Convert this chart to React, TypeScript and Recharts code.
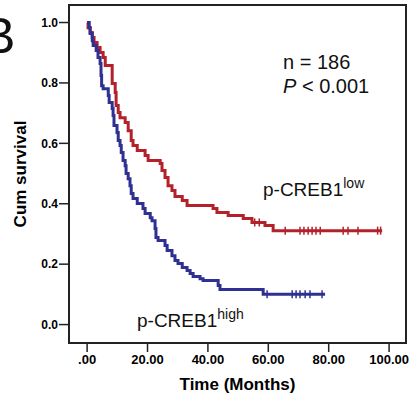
import {
  ComposedChart,
  Line,
  Scatter,
  XAxis,
  YAxis,
  ReferenceArea,
} from "recharts";

const FONT = "'Liberation Sans', Arial, Helvetica, sans-serif";
const RED = "#b3212b";
const BLUE = "#2e3191";

// p-CREB1 low: time of each step (months) and survival after it
const lowTime = [0, 0.3, 1.0, 1.7, 2.3, 3.3, 4.3, 5.3, 6.0, 8.3, 9.3, 9.6, 10.3, 10.9, 12.6, 13.6, 14.6, 15.2, 16.6, 19.2, 20.2, 24.2, 24.8, 25.8, 26.8, 28.1, 29.1, 31.5, 33.1, 41.7, 43.0, 46.7, 51.7, 54.6, 58.9, 61.6, 97.7];
const lowSurv = [1.0, 0.983, 0.967, 0.95, 0.934, 0.917, 0.901, 0.884, 0.858, 0.798, 0.768, 0.725, 0.702, 0.685, 0.669, 0.642, 0.609, 0.593, 0.576, 0.56, 0.543, 0.533, 0.51, 0.487, 0.46, 0.444, 0.424, 0.411, 0.394, 0.384, 0.371, 0.361, 0.351, 0.338, 0.328, 0.311, 0.311];
const lowCensor = [55.5, 57.0, 65.6, 70.5, 71.8, 73.2, 74.5, 75.8, 77.2, 84.8, 86.4, 89.7, 96.2, 97.2];

// p-CREB1 high
const highTime = [0, 0.7, 1.0, 1.7, 2.0, 3.0, 3.6, 4.3, 4.6, 4.8, 5.3, 7.0, 7.3, 8.3, 8.6, 8.9, 9.9, 10.3, 10.9, 11.3, 11.9, 12.6, 12.9, 13.6, 14.2, 14.6, 15.2, 16.6, 18.5, 19.2, 20.9, 21.5, 22.5, 22.8, 23.5, 25.8, 26.5, 28.1, 29.1, 30.1, 31.5, 33.1, 34.1, 35.1, 37.4, 38.4, 43.4, 44.0, 58.3, 78.8];
const highSurv = [1.0, 0.983, 0.964, 0.94, 0.924, 0.907, 0.884, 0.864, 0.825, 0.791, 0.781, 0.758, 0.735, 0.715, 0.692, 0.659, 0.636, 0.609, 0.593, 0.57, 0.543, 0.526, 0.5, 0.483, 0.46, 0.434, 0.417, 0.401, 0.384, 0.368, 0.354, 0.344, 0.318, 0.288, 0.278, 0.262, 0.245, 0.228, 0.212, 0.202, 0.189, 0.179, 0.169, 0.159, 0.152, 0.146, 0.129, 0.116, 0.1, 0.1];
const highCensor = [59.6, 67.9, 69.2, 70.5, 72.2, 73.8, 77.8];

const xTicks = [0, 20, 40, 60, 80, 100];
const yTicks = [0, 0.2, 0.4, 0.6, 0.8, 1.0];

const toPoints = (t: number[], s: number[]) => t.map((v, i) => ({ t: v, s: s[i] }));
// survival level at a censored time
const atTime = (t: number[], s: number[], c: number[]) =>
  c.map((x) => {
    let k = 0;
    for (let i = 0; i < t.length; i++) if (t[i] <= x) k = i;
    return { t: x, s: s[k] };
  });

const lowData = toPoints(lowTime, lowSurv);
const highData = toPoints(highTime, highSurv);
const lowMarks = atTime(lowTime, lowSurv, lowCensor);
const highMarks = atTime(highTime, highSurv, highCensor);

const censorShape = (color: string) => (props: any) => (
  <line x1={props.cx} x2={props.cx} y1={props.cy - 4} y2={props.cy + 4} stroke={color} strokeWidth={1.5} />
);

export default function App() {
  return (
    <div style={{ position: "absolute", left: 0, top: 0, width: 416, height: 398 }}>
      <ComposedChart width={416} height={398} margin={{ top: 5, right: 10, bottom: 0, left: 0 }}>
        <XAxis
          dataKey="t"
          type="number"
          domain={[-6, 105.6]}
          ticks={xTicks}
          allowDataOverflow
          height={55}
          axisLine={false}
          tickSize={9}
          tickMargin={3}
          tickLine={{ stroke: "#222", strokeWidth: 1.5 }}
          tick={{ fill: "#000", fontSize: 13, fontWeight: "bold", fontFamily: FONT }}
          tickFormatter={(v: number) => (v === 0 ? ".00" : v.toFixed(2))}
        />
        <YAxis
          dataKey="s"
          type="number"
          domain={[-0.061, 1.058]}
          ticks={yTicks}
          allowDataOverflow
          width={69}
          axisLine={false}
          tickSize={10}
          tickMargin={1}
          tickLine={{ stroke: "#222", strokeWidth: 1.5 }}
          tick={{ fill: "#000", fontSize: 12, fontWeight: "bold", fontFamily: FONT }}
          tickFormatter={(v: number) => v.toFixed(1)}
        />
        <ReferenceArea x1={-6} x2={105.6} y1={-0.061} y2={1.058} fill="none" stroke="#222" strokeWidth={2} />
        <Line data={lowData} dataKey="s" type="stepAfter" stroke={RED} strokeWidth={3} dot={false} isAnimationActive={false} />
        <Line data={highData} dataKey="s" type="stepAfter" stroke={BLUE} strokeWidth={3} dot={false} isAnimationActive={false} />
        <Scatter data={lowMarks} dataKey="s" shape={censorShape(RED)} isAnimationActive={false} />
        <Scatter data={highMarks} dataKey="s" shape={censorShape(BLUE)} isAnimationActive={false} />
      </ComposedChart>
      <svg
        width={416}
        height={398}
        style={{ position: "absolute", left: 0, top: 0, pointerEvents: "none" }}
        fontFamily={FONT}
      >
        <text x={-18} y={53} fontSize={50} fill="#111">B</text>
        <text x={283} y={69} fontSize={20} fill="#111">n = 186</text>
        <text x={283} y={93} fontSize={20} fill="#111">
          <tspan fontStyle="italic">P</tspan> &lt; 0.001
        </text>
        <text x={263} y={196} fontSize={19} fill="#111">
          p-CREB1<tspan dy={-8} fontSize={14}>low</tspan>
        </text>
        <text x={137} y={327} fontSize={19} fill="#111">
          p-CREB1<tspan dy={-8} fontSize={14}>high</tspan>
        </text>
        <text x={237.5} y={390} fontSize={17} fontWeight="bold" textAnchor="middle" fill="#000">
          Time (Months)
        </text>
        <text
          x={20}
          y={174}
          fontSize={17}
          fontWeight="bold"
          textAnchor="middle"
          fill="#000"
          transform="rotate(-90 20 174)"
          dominantBaseline="central"
        >
          Cum survival
        </text>
      </svg>
    </div>
  );
}
